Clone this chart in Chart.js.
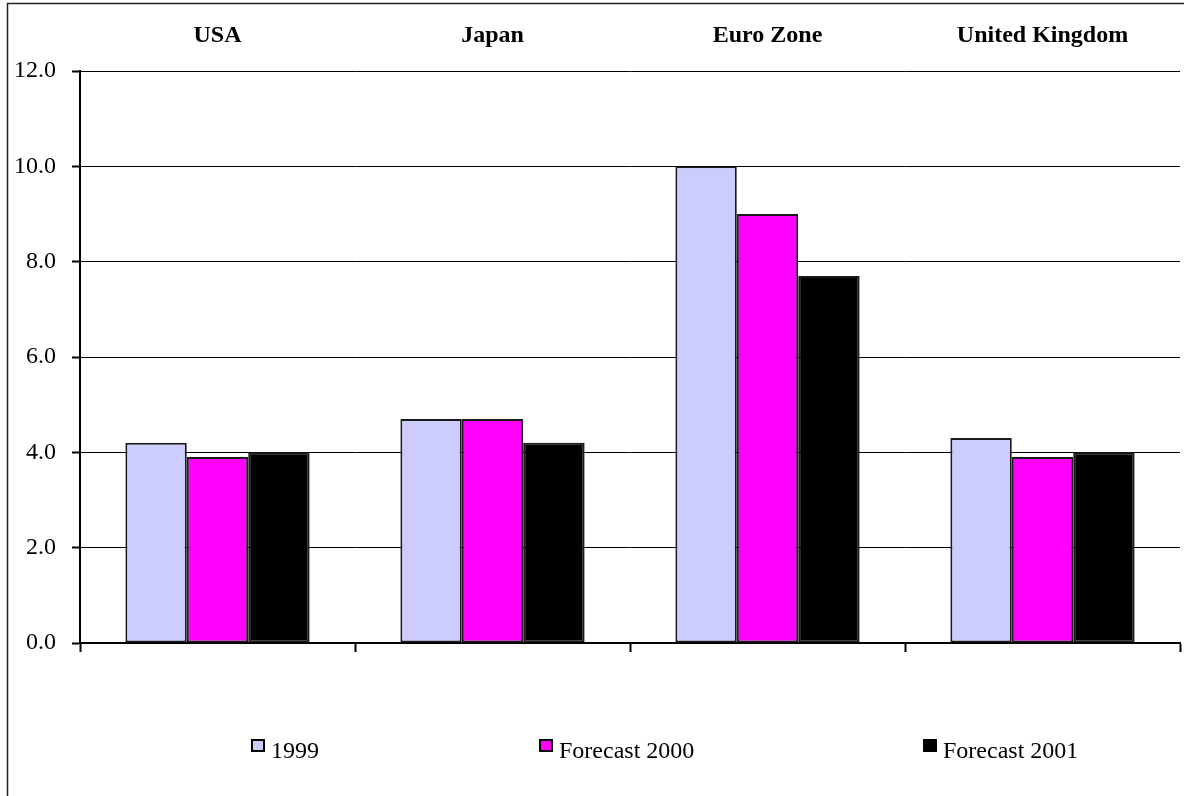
<!DOCTYPE html>
<html>
<head>
<meta charset="utf-8">
<title>Unemployment rates</title>
<script src="https://cdn.jsdelivr.net/npm/chart.js@4.4.1/dist/chart.umd.min.js"></script>
<style>
  html, body { margin: 0; padding: 0; background: #fff; }
  #wrap { width: 1184px; height: 796px; position: relative; }
</style>
</head>
<body>
<div id="wrap"><canvas id="ratesChart"></canvas></div>
<script>
// DATA
const regions = ["USA", "Japan", "Euro Zone", "United Kingdom"];
const rates1999 = [4.2, 4.7, 10.0, 4.3];
const forecast2000 = [3.9, 4.7, 9.0, 3.9];
const forecast2001 = [4.0, 4.2, 7.7, 4.0];
const seriesNames = ["1999", "Forecast 2000", "Forecast 2001"];
const yMin = 0, yMax = 12, yStep = 2;

const FONT = '"Liberation Serif", "Times New Roman", serif';
const FONT_SIZE = 24;

// white page and the frame lines round the chart
const framePlugin = {
  id: "frame",
  beforeDraw(chart) {
    const ctx = chart.ctx;
    ctx.save();
    ctx.fillStyle = "#fff";
    ctx.fillRect(0, 0, chart.width, chart.height);
    ctx.strokeStyle = "#222";
    ctx.lineWidth = 1.5;
    ctx.beginPath();
    ctx.moveTo(7.5, chart.height);
    ctx.lineTo(7.5, 3.5);
    ctx.lineTo(chart.width, 3.5);
    ctx.stroke();
    ctx.restore();
  }
};

// legend row under the plot, small outlined swatches
const legendPlugin = {
  id: "legendRow",
  afterDraw(chart) {
    const ctx = chart.ctx;
    const xs = [251, 539, 923];
    ctx.save();
    ctx.font = FONT_SIZE + "px " + FONT;
    ctx.textBaseline = "alphabetic";
    chart.data.datasets.forEach((ds, i) => {
      const x = xs[i];
      ctx.fillStyle = ds.backgroundColor;
      ctx.fillRect(x, 739, 14, 13);
      ctx.lineWidth = 2;
      ctx.strokeStyle = "#000";
      ctx.strokeRect(x + 1, 740, 12, 11);
      ctx.fillStyle = "#000";
      ctx.fillText(ds.label, x + 20, 758);
    });
    ctx.restore();
  }
};

function barSet(label, data, color) {
  return {
    label: label,
    data: data,
    backgroundColor: color,
    borderColor: "#1a1a1a",
    borderWidth: 2,
    borderSkipped: false,
    categoryPercentage: 0.67,
    barPercentage: 1.0,
    xAxisID: "x"
  };
}

const ctx = document.getElementById("ratesChart").getContext("2d");

const ratesChart = new Chart(ctx, {
  type: "bar",
  data: {
    labels: regions,
    datasets: [
      barSet(seriesNames[0], rates1999, "#CCCCFF"),
      barSet(seriesNames[1], forecast2000, "#FF00FF"),
      barSet(seriesNames[2], forecast2001, "#000000")
    ]
  },
  options: {
    responsive: true,
    maintainAspectRatio: false,
    animation: false,
    layout: { padding: { top: 0, right: 4, bottom: 144, left: 0 } },
    plugins: {
      legend: { display: false },
      tooltip: { enabled: false }
    },
    scales: {
      x: {
        type: "category",
        position: "bottom",
        ticks: { display: false },
        grid: {
          offset: true,
          drawOnChartArea: false,
          tickLength: 9,
          tickWidth: 2,
          tickColor: "#000"
        },
        border: { color: "#000", width: 2 },
        afterFit(scale) { scale.height = 9; }
      },
      xTop: {
        type: "category",
        position: "top",
        labels: regions,
        grid: { display: false, drawTicks: false },
        border: { display: false },
        ticks: {
          color: "#000",
          padding: 21,
          font: { family: FONT, size: FONT_SIZE, weight: "bold" }
        },
        afterFit(scale) { scale.height = 71; }
      },
      y: {
        min: yMin,
        max: yMax,
        ticks: {
          stepSize: yStep,
          color: "#000",
          padding: 16,
          font: { family: FONT, size: FONT_SIZE },
          callback: (v) => v.toFixed(1)
        },
        grid: {
          color: "#000",
          lineWidth: 1,
          tickLength: 8,
          tickWidth: 2,
          tickColor: "#000"
        },
        border: { color: "#000", width: 2 },
        afterFit(scale) { scale.width = 80; }
      }
    }
  },
  plugins: [framePlugin, legendPlugin]
});
</script>
</body>
</html>
